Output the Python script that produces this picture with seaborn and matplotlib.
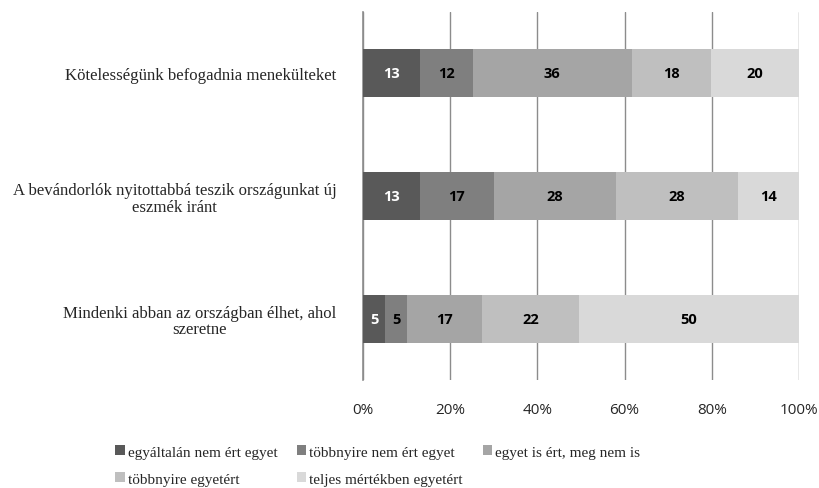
import numpy as np
import pandas as pd
import matplotlib
matplotlib.use("Agg")
import matplotlib.pyplot as plt
import seaborn as sns
from matplotlib.patches import Patch
from matplotlib.ticker import FixedLocator, PercentFormatter

# --- Data ---
CATEGORIES = [
    "Kötelességünk befogadnia menekülteket",
    "A bevándorlók nyitottabbá teszik országunkat új\neszmék iránt",
    "Mindenki abban az országban élhet, ahol\nszeretne",
]
SERIES = [
    "egyáltalán nem ért egyet",
    "többnyire nem ért egyet",
    "egyet is ért, meg nem is",
    "többnyire egyetért",
    "teljes mértékben egyetért",
]
strongly_disagree = [13, 13, 5]
mostly_disagree = [12, 17, 5]
neutral = [36, 28, 17]
mostly_agree = [18, 28, 22]
fully_agree = [20, 14, 50]
COLORS = ["#595959", "#7f7f7f", "#a5a5a5", "#bfbfbf", "#d9d9d9"]
LABEL_COLORS = ["white", "black", "black", "black", "black"]

values = np.array([strongly_disagree, mostly_disagree, neutral, mostly_agree, fully_agree], dtype=float)
shares = values / values.sum(axis=0) * 100  # 100% stacked
cum = shares.cumsum(axis=0)

sns.set_style("white")
fig = plt.figure(figsize=(8.19, 4.89), dpi=100)
ax = fig.add_axes([0.4432, 0.2209, 0.9756 - 0.4432, 0.9734 - 0.2209])

# draw cumulative totals from the last series back, so each bar covers the earlier ones
for i in reversed(range(len(SERIES))):
    df = pd.DataFrame({"cat": CATEGORIES, "val": cum[i]})
    sns.barplot(data=df, x="val", y="cat", orient="h", color=COLORS[i],
                saturation=1, width=0.39, ax=ax, zorder=3, linewidth=0)

for i in range(len(SERIES)):
    for j in range(len(CATEGORIES)):
        center = cum[i, j] - shares[i, j] / 2
        ax.text(center, j, f"{int(values[i, j])}", ha="center", va="center",
                fontsize=10.5, fontweight="bold", color=LABEL_COLORS[i],
                family="Open Sans", zorder=4)

ax.set_xlim(0, 100)
ax.set_ylim(2.5, -0.5)
ax.set_xlabel("")
ax.set_ylabel("")
ax.xaxis.set_major_locator(FixedLocator([0, 20, 40, 60, 80, 100]))
ax.xaxis.set_major_formatter(PercentFormatter(decimals=0))
ax.grid(axis="x", color="#8c8c8c", linewidth=1, zorder=0)
ax.set_axisbelow(True)

for side in ["top", "right", "bottom"]:
    ax.spines[side].set_visible(False)
ax.spines["left"].set_color("#8c8c8c")
ax.spines["left"].set_linewidth(1.2)

ax.tick_params(axis="x", length=4, color="#8c8c8c", labelsize=11, pad=12)
for lbl in ax.get_xticklabels():
    lbl.set_family("Open Sans")
ax.tick_params(axis="y", which="major", length=0, pad=19)
ax.yaxis.set_minor_locator(FixedLocator([-0.5, 0.5, 1.5, 2.5]))
ax.tick_params(axis="y", which="minor", length=7, color="#8c8c8c", width=1.2)
for lbl in ax.get_yticklabels():
    lbl.set_family("Liberation Serif")
    lbl.set_fontsize(12.1)
    lbl.set_multialignment("center")
    lbl.set_linespacing(1.05)

# legend fills column by column, so order the entries to read row by row
order = [0, 3, 1, 4, 2]
handles = [Patch(facecolor=COLORS[k], edgecolor="none") for k in order]
labels = [SERIES[k] for k in order]
fig.legend(handles, labels, loc="upper left", bbox_to_anchor=(0.141, 0.087),
           ncol=3, frameon=False, handlelength=0.6, handleheight=0.6,
           handletextpad=0.2, columnspacing=1.3, labelspacing=0.9,
           borderaxespad=0, borderpad=0,
           prop={"family": "Liberation Serif", "size": 11})

fig.savefig("out.png", dpi=100)
